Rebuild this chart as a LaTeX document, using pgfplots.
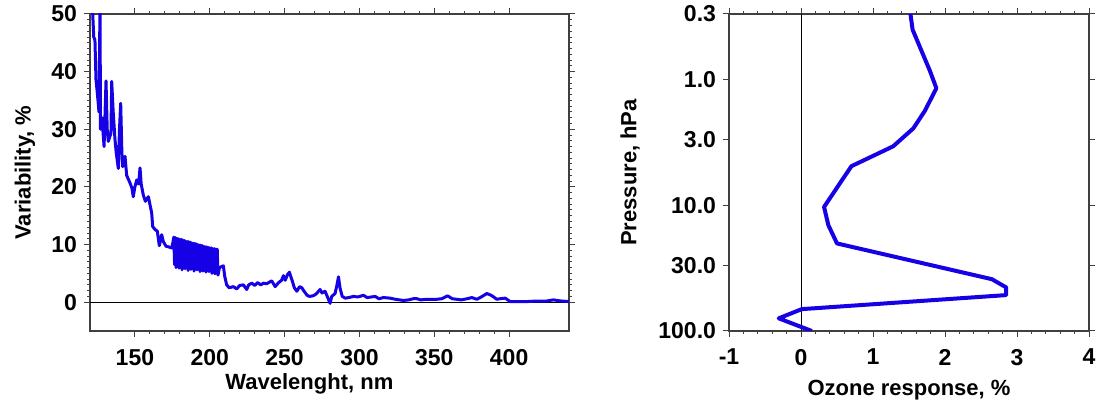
\documentclass[border=0pt]{standalone}
\usepackage{fontspec}
\setmainfont{Liberation Sans}
\usepackage{pgfplots}
\pgfplotsset{compat=1.18}
\definecolor{curve}{RGB}{22,0,230}

\pgfplotsset{panel/.style={
    scale only axis, height=158.5pt,
    tick align=outside,
    major tick length=3pt, minor tick length=1.6pt,
    axis line style={black!75, line width=0.6pt},
    every tick/.style={black!75, line width=0.5pt},
    tick label style={font=\fontsize{11.5}{12}\selectfont\bfseries},
    xticklabel style={yshift=-2.5pt},
    label style={font=\fontsize{11}{12}\selectfont\bfseries},
    /pgf/number format/assume math mode=true,
}}

\begin{document}
\begin{tikzpicture}
% left panel: spectral variability
\begin{axis}[panel, name=leftax,
    width=239.5pt,
    xmin=120, xmax=440, ymin=-5, ymax=50,
    xtick={150,200,250,300,350,400}, minor x tick num=4,
    ytick={0,10,20,30,40,50}, minor y tick num=9,
    xlabel={Wavelenght, nm}, ylabel={Variability, \%},
    xlabel style={at={(axis description cs:0.458,-0.186)}, anchor=base},
    ylabel style={at={(axis description cs:-0.136,0.5)}, anchor=center},
]
\addplot[black, line width=0.5pt] coordinates {(120,0) (440,0)};
\addplot[curve, line width=1.5pt, line join=round] coordinates {
(121,55) (122.5,46) (123.3,45.5) (124,38.6) (125,36) (126,33) (126.7,52) (127,30) (128,32)
(129.4,27) (130.7,38.4) (131.5,30) (132.2,27.9) (134,29.3) (134.5,38.3) (135.5,33) (136.7,28.2)
(137.5,26) (138.9,23.2) (139.7,30) (140.5,34.5) (141.3,26) (141.8,23.5) (143.4,25.3) (144.5,22)
(146.7,20.7) (148,19.8) (148.9,18.3) (150,20) (151.2,21.2) (152.5,20.5) (153.4,23.3) (154.2,20.5)
(155.6,18.6) (157,17.5) (159,18.3) (160,17) (161.2,15.5) (161.9,13.1) (163.5,12.6) (165,12.3)
(166.3,9.8) (167.9,11.7) (169,10.5) (170.8,9.7) (172.5,9.6) (174.6,9.4) (175.5,10.5)
(176,11.3) (176.5,6.5) (177,11.2) (177.5,6.0) (178,11.1) (178.5,6.8) (179,11.0) (179.5,5.9)
(180,10.9) (180.5,6.3) (181,10.9) (181.5,5.6) (182,10.8) (182.5,6.2) (183,10.7) (183.5,5.8)
(184,10.6) (184.5,6.4) (185,10.5) (185.5,5.5) (186,10.5) (186.5,6.0) (187,10.4) (187.5,5.7)
(188,10.3) (188.5,6.2) (189,10.2) (189.5,5.4) (190,10.2) (190.5,5.9) (191,10.1) (191.5,5.6)
(192,10.0) (192.5,6.0) (193,9.9) (193.5,5.3) (194,9.9) (194.5,5.8) (195,9.8) (195.5,5.4)
(196,9.7) (196.5,5.9) (197,9.6) (197.5,5.2) (198,9.6) (198.5,5.7) (199,9.5) (199.5,5.3)
(200,9.4) (200.5,5.6) (201,9.4) (201.5,5.0) (202,9.3) (202.5,5.5) (203,9.3) (203.5,4.9)
(204,9.2) (204.5,5.4) (205,9.2) (205.5,4.7)
(206.5,6.0) (208,6.2) (209.1,6.3) (210,4.5) (211.3,3.0) (213,2.5) (215.8,2.7) (218,2.3)
(220,2.9) (222.5,3.0) (224.7,2.2) (226,3.0) (228.1,3.3) (230,2.9) (232,3.4) (234,3.0)
(235.9,3.3) (238,3.2) (241.4,3.7) (243.7,2.7) (246,3.4) (248,3.8) (249.2,4.6) (250.4,3.8)
(252,4.8) (253.2,5.2) (255,3.8) (256.5,2.5) (258.2,1.9) (260,2.7) (261.5,2.5) (263,1.9)
(265,1.2) (266.6,1.0) (269,1.1) (271,1.4) (273.7,2.2) (275,1.6) (277,1.9) (278.5,1.0)
(280.4,-0.2) (281.5,1.0) (283.7,1.5) (285,3.0) (286,4.4) (287,2.5) (288.5,1.0) (290.5,0.7)
(293,0.8) (296,1.0) (299,0.9) (302.7,1.2) (305,0.8) (308,0.9) (310.5,1.0) (313,0.6)
(316,0.8) (320.5,0.7) (324,0.5) (329.4,0.3) (333,0.4) (336,0.6) (338.3,0.6) (341,0.4)
(345,0.5) (351.6,0.5) (355,0.6) (358.9,1.1) (362,0.6) (365.1,0.5) (368,0.4) (372,0.6)
(375.1,0.8) (378.5,0.5) (382,1.0) (385.1,1.5) (388,1.2) (391.8,0.5) (394,0.6) (397.4,0.7)
(400.7,0.1) (405,0.1) (411.9,0.1) (418,0.2) (425,0.2) (429.7,0.4) (431.9,0.3) (435,0.2) (440,0.1)
};
\end{axis}

% right panel: ozone response profile
\begin{axis}[panel, name=rightax,
    at={(319.5pt,0pt)},
    width=180pt,
    xmin=-1, xmax=4, ymin=0.3, ymax=100,
    ymode=log, y dir=reverse,
    xtick={-1,0,1,2,3,4}, xticklabels={-1,0,1,2,3,4}, minor x tick num=4,
    ytick={0.3,1,3,10,30,100}, yticklabels={0.3,1.0,3.0,10.0,30.0,100.0},
    yminorticks=false,
    xlabel={Ozone response, \%}, ylabel={Pressure, hPa},
    xlabel style={at={(axis description cs:0.5,-0.202)}, anchor=base},
    ylabel style={at={(axis description cs:-0.275,0.5)}, anchor=center},
]
\addplot[black, line width=0.5pt] coordinates {(0,0.3) (0,100)};
\addplot[curve, line width=2pt, line join=round] coordinates {
(1.52,0.3) (1.55,0.40) (1.79,0.85) (1.88,1.17) (1.72,1.77) (1.56,2.44) (1.28,3.39)
(0.70,4.88) (0.52,6.95) (0.32,10.3) (0.38,14.4) (0.50,20.1) (2.65,38.7) (2.85,45)
(2.85,51.8) (0.01,67) (-0.31,79.3) (0.15,100)
};
\end{axis}

% page size as in the reference (white margins round the two panels)
\pgfresetboundingbox
\path[use as bounding box] ([shift={(-45pt,-36pt)}]leftax.south west)
  rectangle ([shift={(6.5pt,7pt)}]rightax.north east);
\end{tikzpicture}
\end{document}
